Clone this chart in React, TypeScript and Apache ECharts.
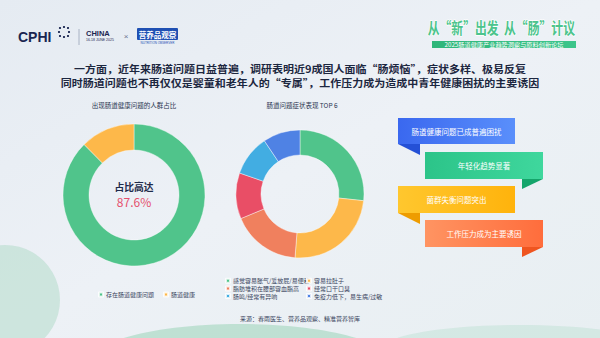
import React, { useEffect, useRef } from 'react';
import * as echarts from 'echarts';

const overviewNames = ['存在肠道健康问题', '肠道健康'];
const overviewValues = [87.6, 12.4];
const overviewColors = ['#50c48b', '#fdb84a'];

const symptomNames = [
  '感觉容易胀气/爱放屁/易便秘',
  '容易拉肚子',
  '脂肪堆积在腰部容血脂高',
  '经常口干口臭',
  '肠鸣/经常有异响',
  '免疫力低下，易生病/过敏',
];
const symptomValues = [26.7, 24.6, 17.5, 11.6, 10.3, 9.4];
const symptomColors = ['#50c48b', '#fdb84a', '#f0805e', '#e94e66', '#42ade2', '#4f82e4'];

const headlineLines = [
  '一方面，近年来肠道问题日益普遍，调研表明近9成国人面临“肠烦恼”，症状多样、极易反复',
  '同时肠道问题也不再仅仅是婴童和老年人的“专属”，工作压力成为造成中青年健康困扰的主要诱因',
];
const bannerTexts = ['肠道健康问题已成普遍困扰', '年轻化趋势显著', '菌群失衡问题突出', '工作压力成为主要诱因'];
const bannerColors = [
  ['#3a68ef', '#5a8ffb', '#2450d6'],
  ['#2cc489', '#3fd79d', '#15a56b'],
  ['#ffc72e', '#ffb30c', '#ee9c00'],
  ['#ff9462', '#ff6d3c', '#ef5520'],
];

const FONT = '"Noto Sans CJK SC", "Noto Sans", sans-serif';

export default function App() {
  const ref = useRef<HTMLDivElement>(null);
  useEffect(() => {
    document.body.style.margin = '0';
    const chart = echarts.init(ref.current!, null, { renderer: 'svg' });

    const banners: any[] = [];
    bannerTexts.forEach((t, i) => {
      const left = i % 2 === 0;
      const x = left ? 398 : 425;
      const w = left ? 117 : 118;
      const y = [118, 152, 186, 220][i];
      const h = i === 0 ? 26 : 27;
      const c = bannerColors[i];
      const fold = left
        ? [[x, y + h], [x + 22, y + h], [x + 22, y + h + 11]]
        : [[x + w - 21, y + h], [x + w, y + h], [x + w - 21, y + h + 10]];
      banners.push({ type: 'polygon', shape: { points: fold }, style: { fill: c[2] } });
      banners.push({
        type: 'rect',
        shape: { x, y, width: w, height: h },
        style: { fill: new echarts.graphic.LinearGradient(0, 0, 1, 0, [{ offset: 0, color: c[0] }, { offset: 1, color: c[1] }]) },
      });
      banners.push({
        type: 'text',
        x: x + w / 2,
        y: y + h / 2,
        style: { text: t, fill: '#ffffff', fontSize: 7.5, fontFamily: FONT, align: 'center', verticalAlign: 'middle' },
      });
    });

    const dots: any[] = [];
    [[60, 28], [64, 27], [68, 28], [59, 32], [69, 32], [60, 36], [64, 37], [68, 36]].forEach(([cx, cy]) => {
      dots.push({ type: 'circle', shape: { cx, cy, r: 1.1 }, style: { fill: '#1a2550' } });
    });

    const option: any = {
      animation: false,
      backgroundColor: new echarts.graphic.LinearGradient(0, 0, 1, 1, [
        { offset: 0, color: '#e5ebf2' },
        { offset: 0.5, color: '#edf1f6' },
        { offset: 1, color: '#e8eff2' },
      ]),
      textStyle: { fontFamily: FONT },
      graphic: [
        { type: 'ellipse', shape: { cx: 240, cy: 362, rx: 150, ry: 38 }, style: { fill: 'rgba(110,196,150,0.35)' }, silent: true },
        { type: 'circle', shape: { cx: 5, cy: 300, r: 55 }, style: { fill: 'rgba(110,196,150,0.25)' }, silent: true },
        { type: 'ellipse', shape: { cx: 520, cy: 350, rx: 140, ry: 25 }, style: { fill: 'rgba(150,210,185,0.25)' }, silent: true },
        // header logos
        { type: 'text', x: 18, y: 37, style: { text: 'CPHI', fill: '#1a2550', fontSize: 14, fontWeight: 900, fontFamily: 'Liberation Sans, Arial, sans-serif', verticalAlign: 'middle' } },
        ...dots,
        { type: 'line', shape: { x1: 79, y1: 29, x2: 79, y2: 45 }, style: { stroke: '#9aa4b8', lineWidth: 0.8 } },
        { type: 'text', x: 86, y: 33, style: { text: 'CHINA', fill: '#1a2550', fontSize: 7.5, fontWeight: 'bold', fontFamily: 'Liberation Sans, Arial, sans-serif', verticalAlign: 'middle' } },
        { type: 'text', x: 86, y: 40, style: { text: '16-18 JUNE 2025', fill: '#1a2550', fontSize: 3.5, fontFamily: 'Liberation Sans, Arial, sans-serif', verticalAlign: 'middle' } },
        { type: 'text', x: 126, y: 36, style: { text: '×', fill: '#6a7690', fontSize: 8, align: 'center', verticalAlign: 'middle' } },
        { type: 'rect', shape: { x: 137, y: 28, width: 41, height: 12, r: 1 }, style: { fill: '#1f50b3' } },
        { type: 'text', x: 157.5, y: 34, style: { text: '营养品观察', fill: '#ffffff', fontSize: 7.5, fontWeight: 'bold', fontFamily: FONT, align: 'center', verticalAlign: 'middle' } },
        { type: 'text', x: 157.5, y: 43, style: { text: 'NUTRITION OBSERVER', fill: '#1f50b3', fontSize: 3, fontFamily: 'Liberation Sans, Arial, sans-serif', align: 'center', verticalAlign: 'middle' } },
        // top right title
        {
          type: 'text', x: 575, y: 27, scaleX: 0.74, scaleY: 1,
          style: {
            text: '从“新”出发  从“肠”计议', fontSize: 16, fontWeight: 'bold', fontFamily: FONT, align: 'right', verticalAlign: 'middle',
            fill: '#4cc48c', stroke: '#ffffff', lineWidth: 1.3,
          },
        },
        { type: 'rect', shape: { x: 432, y: 41, width: 144, height: 7 }, style: { fill: new echarts.graphic.LinearGradient(0, 0, 1, 0, [{ offset: 0, color: '#2fb67a' }, { offset: 1, color: '#3cc58a' }]) } },
        { type: 'text', x: 504, y: 44.6, style: { text: '2025肠道健康产业趋势洞察与原料创新论坛', fill: '#ffffff', fontSize: 6.2, fontFamily: FONT, align: 'center', verticalAlign: 'middle' } },
        // headline
        { type: 'text', x: 300, y: 68.4, scaleY: 0.88, style: { text: headlineLines[0], fill: '#1c2740', fontSize: 11, fontWeight: 'bold', fontFamily: FONT, align: 'center', verticalAlign: 'middle' } },
        { type: 'text', x: 300, y: 82.8, scaleY: 0.88, style: { text: headlineLines[1], fill: '#1c2740', fontSize: 11, fontWeight: 'bold', fontFamily: FONT, align: 'center', verticalAlign: 'middle' } },
        // chart titles
        { type: 'text', x: 134, y: 105, style: { text: '出现肠道健康问题的人群占比', fill: '#2a3550', fontSize: 6.5, fontFamily: FONT, align: 'center', verticalAlign: 'middle' } },
        { type: 'text', x: 302, y: 105, style: { text: '肠道问题症状表现 TOP 6', fill: '#2a3550', fontSize: 6.5, fontFamily: FONT, align: 'center', verticalAlign: 'middle' } },
        // donut center
        { type: 'text', x: 134, y: 187, style: { text: '占比高达', fill: '#1e2a4a', fontSize: 9.8, fontWeight: 'bold', fontFamily: FONT, align: 'center', verticalAlign: 'middle' } },
        { type: 'text', x: 134, y: 201.5, style: { text: overviewValues[0] + '%', fill: '#e5506d', fontSize: 12, fontFamily: FONT, align: 'center', verticalAlign: 'middle' } },
        ...banners,
        // footer
        { type: 'text', x: 300, y: 318, style: { text: '来源：春雨医生、营养品观察、精准营养智库', fill: '#3a4560', fontSize: 6, fontFamily: FONT, align: 'center', verticalAlign: 'middle' } },
      ],
      legend: [
        {
          data: overviewNames, left: 93, top: 286.5, itemWidth: 4, itemHeight: 4, itemGap: 9, icon: 'rect',
          textStyle: { fontSize: 6, color: '#3a4560', fontFamily: FONT, padding: [0, 0, 0, -2] },
        },
        {
          data: [symptomNames[0], symptomNames[2], symptomNames[4]], orient: 'vertical', left: 220, top: 272, itemWidth: 4, itemHeight: 4, itemGap: 0, icon: 'rect',
          textStyle: { fontSize: 6, lineHeight: 7.6, color: '#3a4560', fontFamily: FONT, padding: [0, 0, 0, -2] },
        },
        {
          data: [symptomNames[1], symptomNames[3], symptomNames[5]], orient: 'vertical', left: 301, top: 272, itemWidth: 4, itemHeight: 4, itemGap: 0, icon: 'rect',
          textStyle: { fontSize: 6, lineHeight: 7.6, color: '#3a4560', fontFamily: FONT, padding: [0, 0, 0, -2] },
        },
      ],
      series: [
        {
          type: 'pie', center: [134, 195], radius: [45, 71], startAngle: 90, clockwise: true,
          label: { show: false }, labelLine: { show: false },
          itemStyle: { borderColor: 'rgba(255,255,255,0.8)', borderWidth: 0.5 },
          data: overviewNames.map((n, i) => ({ name: n, value: overviewValues[i], itemStyle: { color: overviewColors[i] } })),
        },
        {
          type: 'pie', center: [300, 194], radius: [39, 64], startAngle: 90, clockwise: true,
          label: { show: false }, labelLine: { show: false },
          itemStyle: { borderColor: 'rgba(255,255,255,0.8)', borderWidth: 0.5 },
          data: symptomNames.map((n, i) => ({ name: n, value: symptomValues[i], itemStyle: { color: symptomColors[i] } })),
        },
      ],
    };
    chart.setOption(option);
    return () => chart.dispose();
  }, []);
  return <div ref={ref} style={{ width: 600, height: 338, position: 'absolute', left: 0, top: 0 }} />;
}
